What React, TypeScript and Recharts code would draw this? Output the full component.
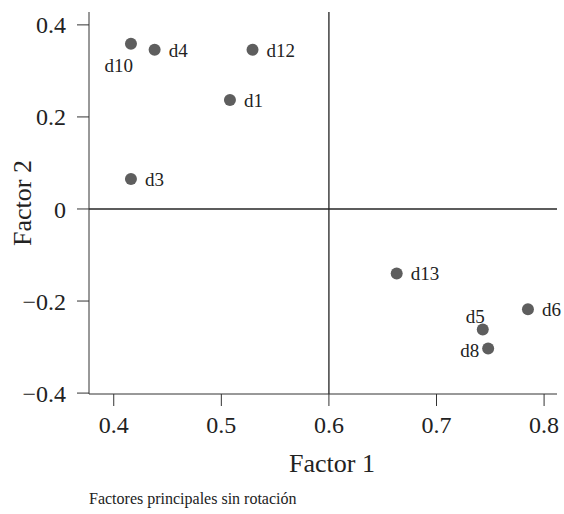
import {
  ScatterChart,
  Scatter,
  XAxis,
  YAxis,
  ReferenceLine,
} from "recharts";

// Factor loadings, one entry per item
const ITEMS = ["d1", "d3", "d4", "d5", "d6", "d8", "d10", "d12", "d13"];
const FACTOR_1 = [0.508, 0.416, 0.438, 0.743, 0.785, 0.748, 0.416, 0.529, 0.663];
const FACTOR_2 = [0.237, 0.065, 0.346, -0.262, -0.218, -0.303, 0.359, 0.346, -0.14];

const X_TICKS = [0.4, 0.5, 0.6, 0.7, 0.8];
const Y_TICKS = [-0.4, -0.2, 0, 0.2, 0.4];

const CAPTION = "Factores principales sin rotación";

const points = ITEMS.map((name, i) => ({
  name,
  f1: FACTOR_1[i],
  f2: FACTOR_2[i],
}));

// where each item's tag sits relative to its dot
const LABEL_OFFSETS: Record<string, { dx: number; dy: number; anchor: "start" | "end" }> = {
  d10: { dx: 2, dy: 28, anchor: "end" },
  d5: { dx: 2, dy: -7, anchor: "end" },
  d8: { dx: -9, dy: 9, anchor: "end" },
};
const DEFAULT_OFFSET = { dx: 14, dy: 7, anchor: "start" as const };

const FONT = "Liberation Serif";
const INK = "#222";
const LINE = "#333";

const fmt = (v: number) => {
  if (v === 0) return "0";
  const s = Math.abs(v).toFixed(1);
  return v < 0 ? "\u2212" + s : s;
};

function Dot(props: any) {
  const { cx, cy, payload } = props;
  const o = LABEL_OFFSETS[payload.name] ?? DEFAULT_OFFSET;
  return (
    <g>
      <circle cx={cx} cy={cy} r={6} fill="#5e5e5e" />
      <text
        x={cx + o.dx}
        y={cy + o.dy}
        textAnchor={o.anchor}
        style={{ fontFamily: FONT, fontSize: 19, fill: INK }}
      >
        {payload.name}
      </text>
    </g>
  );
}

export default function App() {
  return (
    <div
      style={{
        position: "absolute",
        left: 0,
        top: 0,
        width: 564,
        height: 514,
        background: "#fff",
        fontFamily: FONT,
      }}
    >
      <ScatterChart
        width={564}
        height={514}
        margin={{ top: 12, right: 7, bottom: 40, left: 0 }}
        style={{ fontFamily: FONT }}
      >
        <XAxis
          type="number"
          dataKey="f1"
          domain={[0.377, 0.812]}
          ticks={X_TICKS}
          tickFormatter={fmt}
          height={80}
          tickSize={12}
          tickMargin={10}
          stroke={LINE}
          tick={{ fill: INK, fontSize: 24, style: { fontFamily: FONT } }}
          label={{
            value: "Factor 1",
            position: "insideBottom",
            offset: 2,
            dx: 9,
            style: { fill: INK, fontSize: 26, fontFamily: FONT },
          }}
        />
        <YAxis
          type="number"
          dataKey="f2"
          domain={[-0.402, 0.428]}
          ticks={Y_TICKS}
          tickFormatter={fmt}
          width={89}
          tickSize={12}
          tickMargin={11}
          stroke={LINE}
          tick={{ fill: INK, fontSize: 24, style: { fontFamily: FONT } }}
          label={{
            value: "Factor 2",
            angle: -90,
            position: "insideLeft",
            offset: 22,
            style: { fill: INK, fontSize: 26, fontFamily: FONT, textAnchor: "middle" },
          }}
        />
        <ReferenceLine y={0} stroke="#5c5c5c" strokeWidth={2} />
        <ReferenceLine x={0.6} stroke="#222" strokeWidth={1.3} />
        <Scatter data={points} shape={Dot} isAnimationActive={false} />
      </ScatterChart>
      <div
        style={{
          position: "absolute",
          left: 89,
          top: 491,
          fontSize: 16,
          lineHeight: "16px",
          color: INK,
          whiteSpace: "nowrap",
        }}
      >
        {CAPTION}
      </div>
    </div>
  );
}
